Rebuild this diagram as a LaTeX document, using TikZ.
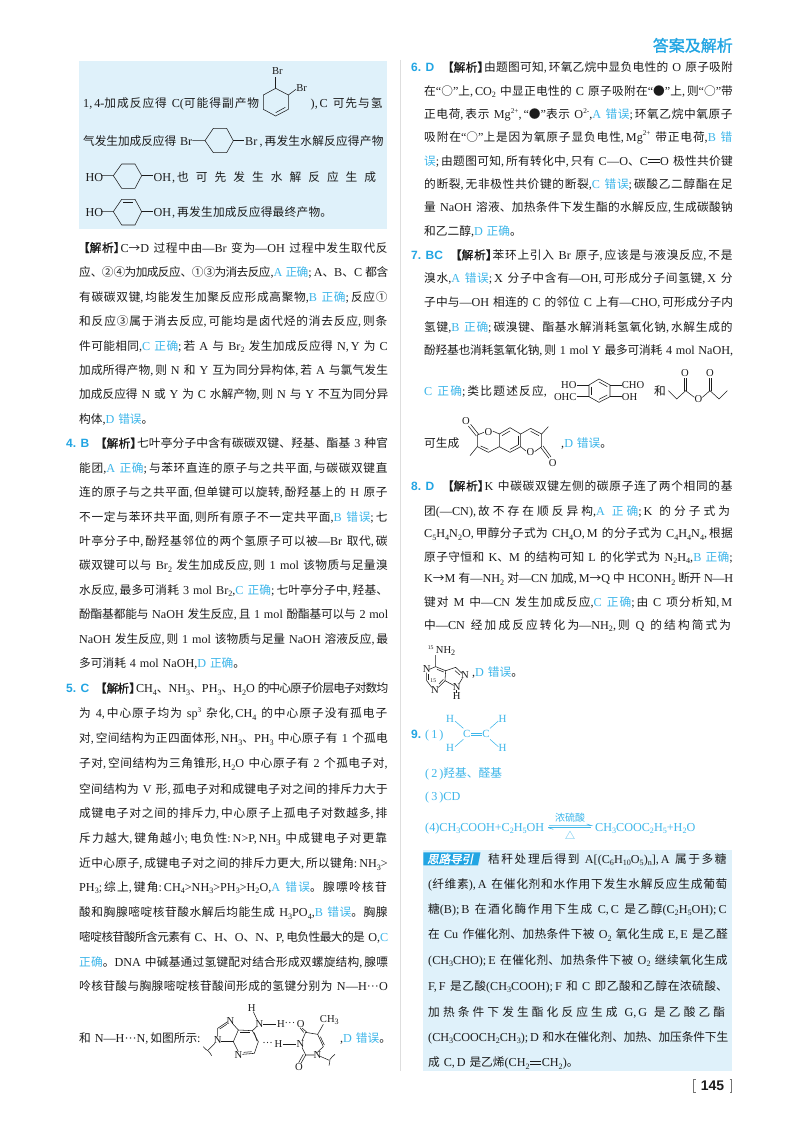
\documentclass[tikz,border=0pt]{standalone}
\usepackage{fontspec}
\setmainfont{Liberation Serif}
\newfontfamily\cjkf{Noto Sans CJK SC}
\newfontfamily\latf[Scale=1.04]{Liberation Serif}
\newfontfamily\labf{Liberation Sans}
\newfontfamily\tagf[FakeSlant=0.2,FakeBold=2]{Noto Sans CJK SC}
\newfontfamily\jxf[FakeBold=1.2]{Noto Sans CJK SC}
\definecolor{cb}{HTML}{3DB6EA}
\definecolor{lb}{HTML}{22A5E3}
\definecolor{tx}{HTML}{1C1C1C}
\definecolor{bx}{HTML}{DFF1FA}
% character classes: 1 CJK, 2 Latin, 3 narrow punctuation
\newcount\cc
\cc="21 \loop\XeTeXcharclass\cc=2 \advance\cc 1 \ifnum\cc<"7F \repeat
\XeTeXcharclass"2014=2 \XeTeXcharclass"00B7=2 \XeTeXcharclass"201C=2 \XeTeXcharclass"201D=2
\cc="4E00 \loop\XeTeXcharclass\cc=1 \advance\cc 1 \ifnum\cc<"A000 \repeat
\cc="3000 \loop\XeTeXcharclass\cc=1 \advance\cc 1 \ifnum\cc<"3040 \repeat
\cc="2190 \loop\XeTeXcharclass\cc=1 \advance\cc 1 \ifnum\cc<"21A0 \repeat
\cc="2460 \loop\XeTeXcharclass\cc=1 \advance\cc 1 \ifnum\cc<"2474 \repeat
\cc="2500 \loop\XeTeXcharclass\cc=1 \advance\cc 1 \ifnum\cc<"2600 \repeat
\XeTeXcharclass`\,=3 \XeTeXcharclass`\;=3 \XeTeXcharclass`\:=3
\XeTeXinterchartoks 0 1={\cjkf}
\XeTeXinterchartoks 2 1={\cjkf}
\XeTeXinterchartoks 3 1={\hskip .16em\cjkf}
\XeTeXinterchartoks 4095 1={\cjkf}
\XeTeXinterchartoks 0 2={\latf}
\XeTeXinterchartoks 1 2={\latf}
\XeTeXinterchartoks 3 2={\hskip .16em\latf}
\XeTeXinterchartoks 4095 2={\latf}
\XeTeXinterchartoks 0 3={\latf}
\XeTeXinterchartoks 1 3={\latf}
\XeTeXinterchartoks 4095 3={\latf}
\XeTeXinterchartokenstate=1
\XeTeXlinebreaklocale "zh"
\XeTeXlinebreakskip=0pt plus 1fil minus 1.2pt
\tolerance=10000 \hbadness=10000 \hfuzz=50pt \linepenalty=5000
\newcommand\dn[1]{\raisebox{-.2em}{\fontsize{7.8}{8}\selectfont #1}}
\newcommand\up[1]{\raisebox{.42em}{\fontsize{7}{8}\selectfont #1}}
\newcommand\bl[1]{\color{cb}#1\color{tx}}
\newcommand\nochg{\XeTeXinterchartokenstate=0\relax}
\newcommand\dbl{\kern.04em\rlap{\rule[.2em]{.92em}{.055em}}\rule[.4em]{.92em}{.055em}\kern.04em}
\newcommand\JX{{\nochg\jxf\kern-.1em 【解析】\kern-.42em}}
\tikzset{
  bd/.style={line width=.55pt,draw=tx},
  bb/.style={line width=.55pt,draw=cb},
  atm/.style={inner sep=0pt,font=\fontsize{10.2}{10}\selectfont,text=tx},
  atb/.style={inner sep=0pt,font=\fontsize{10.5}{10}\selectfont,text=cb},
  zm/.style 2 args={shift={(#1,#2)},x=.33333pt,y=-.33333pt},
}
\newcommand\lineJ[4]{\node[anchor=base west,inner sep=0pt,text width=#2 pt,text=tx,font=\fontsize{11.7}{14}\selectfont] at (#1,{#3+4.3}) {\parindent=0pt\parfillskip=0pt\spaceskip=.33em plus 1fil minus .1em\xspaceskip=\spaceskip\relax #4};}
\newcommand\lineN[3]{\node[anchor=base west,inner sep=0pt,text=tx,font=\fontsize{11.7}{14}\selectfont] at (#1,{#2+4.3}) {\spaceskip=.33em\xspaceskip=.33em\relax #3};}
\newcommand\colL[2]{\lineJ{79}{309}{#1}{#2}}
\newcommand\colR[2]{\lineJ{424}{309}{#1}{#2}}
\newcommand\boxR[2]{\lineJ{428}{300}{#1}{#2}}
\newcommand\labl[3]{\node[anchor=base west,inner sep=0pt,text=lb,font=\nochg\labf\bfseries\fontsize{12}{14}\selectfont] at (#1,{#2+4.3}) {#3};}
\begin{document}
\begin{tikzpicture}[x=1pt,y=-1pt]
\useasboundingbox (0,0) rectangle (800,1132);
\fill[white] (0,0) rectangle (800,1132);
% header and furniture
\node[anchor=base east,inner sep=0pt,text=lb,font=\nochg\jxf\fontsize{16}{18}\selectfont] at (733,51.5) {答案及解析};
\draw[line width=1.4pt,draw=black!13] (400.5,60) -- (400.5,1071);
\fill[bx] (79,60.7) rectangle (387,229);
\fill[bx] (423.3,850) rectangle (732.3,1071);
\fill[lb] (423.3,852.3) -- (480.5,852.3) -- (478,865.3) -- (423.3,865.3) -- cycle;
\node[anchor=base west,inner sep=0pt,text=white,font=\nochg\tagf\fontsize{11.5}{12}\selectfont] at (427,863.3) {思路导引};
% page number
\draw[line width=.6pt,draw=black!55] (695.5,1079) -- (693.5,1079) -- (693.5,1092.5) -- (695.5,1092.5);
\draw[line width=.6pt,draw=black!55] (729.5,1079) -- (731.5,1079) -- (731.5,1092.5) -- (729.5,1092.5);
\node[anchor=base,inner sep=0pt,text=tx,font=\nochg\labf\bfseries\fontsize{14}{14}\selectfont] at (712.5,1090.5) {145};

% first box
\lineJ{83}{177}{102.7}{1,4-加成反应得 C(可能得副产物}
\lineJ{310.5}{73}{102.7}{),C 可先与氢}
\lineJ{83}{109}{140.7}{气发生加成反应得 Br}
\lineN{245}{140.7}{Br}
\lineJ{259.5}{124}{140.7}{,再发生水解反应得产物}
\lineN{85.5}{176.7}{HO}
\lineN{153.5}{176.7}{OH}
\lineJ{172}{211}{176.7}{,也可先发生水解反应生成}
\lineN{85.5}{211.7}{HO}
\lineN{153.5}{211.7}{OH}
\lineJ{172}{160}{211.7}{,再发生加成反应得最终产物。}
\begin{scope}[zm={70}{30}]
 \draw[bd] (617,175)--(655,195)--(655,238)--(617,258)--(580,238)--(580,195)--cycle;
 \draw[bd] (646,232)--(617,248);
 \draw[bd] (617,175)--(617,140); \draw[bd] (655,195)--(678,178);
 \node[atm] at (622,123) {Br}; \node[atm] at (695,173) {Br};
 \draw[bd] (367,332)--(405,332)--(430,295)--(470,295)--(490,332)--(470,368)--(430,368)--(405,332);
 \draw[bd] (490,332)--(522,332);
 \draw[bd] (93,437)--(130,437)--(155,402)--(195,402)--(215,437)--(195,475)--(155,475)--(130,437);
 \draw[bd] (215,437)--(250,437);
 \draw[bd] (93,545)--(130,545)--(155,508)--(195,508)--(215,545)--(195,585)--(155,585)--(130,545);
 \draw[bd] (215,545)--(250,545); \draw[bd] (160,516)--(190,516);
\end{scope}

% left column, section 3
\colL{247.7}{\JX C→D 过程中由—Br 变为—OH 过程中发生取代反}
\colL{272.3}{应、②④为加成反应、①③为消去反应,\bl{A 正确};A、B、C 都含}
\colL{296.7}{有碳碳双键,均能发生加聚反应形成高聚物,\bl{B 正确};反应①}
\colL{321}{和反应③属于消去反应,可能均是卤代烃的消去反应,则条}
\colL{345.7}{件可能相同,\bl{C 正确};若 A 与 Br\dn{2} 发生加成反应得 N,Y 为 C}
\colL{369.7}{加成所得产物,则 N 和 Y 互为同分异构体,若 A 与氯气发生}
\colL{394.3}{加成反应得 N 或 Y 为 C 水解产物,则 N 与 Y 不互为同分异}
\lineN{79}{419}{构体,\bl{D 错误}。}
% section 4
\labl{66}{443.3}{4. B}
\lineJ{96}{292}{443.3}{\JX 七叶亭分子中含有碳碳双键、羟基、酯基 3 种官}
\colL{467.7}{能团,\bl{A 正确};与苯环直连的原子与之共平面,与碳碳双键直}
\colL{492}{连的原子与之共平面,但单键可以旋转,酚羟基上的 H 原子}
\colL{516.7}{不一定与苯环共平面,则所有原子不一定共平面,\bl{B 错误};七}
\colL{540.7}{叶亭分子中,酚羟基邻位的两个氢原子可以被—Br 取代,碳}
\colL{565.3}{碳双键可以与 Br\dn{2} 发生加成反应,则 1 mol 该物质与足量溴}
\colL{590}{水反应,最多可消耗 3 mol Br\dn{2},\bl{C 正确};七叶亭分子中,羟基、}
\colL{614.3}{酚酯基都能与 NaOH 发生反应,且 1 mol 酚酯基可以与 2 mol}
\colL{639}{NaOH 发生反应,则 1 mol 该物质与足量 NaOH 溶液反应,最}
\lineN{79}{663.3}{多可消耗 4 mol NaOH,\bl{D 正确}。}
% section 5
\labl{66}{688.3}{5. C}
\lineJ{96}{292}{688.3}{\JX CH\dn{4}、NH\dn{3}、PH\dn{3}、H\dn{2}O 的中心原子价层电子对数均}
\colL{713.3}{为 4,中心原子均为 sp\up{3} 杂化,CH\dn{4} 的中心原子没有孤电子}
\colL{738.3}{对,空间结构为正四面体形,NH\dn{3}、PH\dn{3} 中心原子有 1 个孤电}
\colL{763.3}{子对,空间结构为三角锥形,H\dn{2}O 中心原子有 2 个孤电子对,}
\colL{789}{空间结构为 V 形,孤电子对和成键电子对之间的排斥力大于}
\colL{813.3}{成键电子对之间的排斥力,中心原子上孤电子对数越多,排}
\colL{838.3}{斥力越大,键角越小;电负性:N>P,NH\dn{3} 中成键电子对更靠}
\colL{863.3}{近中心原子,成键电子对之间的排斥力更大,所以键角:NH\dn{3}>}
\colL{886.7}{PH\dn{3};综上,键角:CH\dn{4}>NH\dn{3}>PH\dn{3}>H\dn{2}O,\bl{A 错误}。腺嘌呤核苷}
\colL{912.3}{酸和胸腺嘧啶核苷酸水解后均能生成 H\dn{3}PO\dn{4},\bl{B 错误}。胸腺}
\colL{937.3}{嘧啶核苷酸所含元素有 C、H、O、N、P,电负性最大的是 O,\bl{C}}
\colL{961.7}{\bl{正确}。DNA 中碱基通过氢键配对结合形成双螺旋结构,腺嘌}
\colL{985.7}{呤核苷酸与胸腺嘧啶核苷酸间形成的氢键分别为 N—H···O}
\lineN{79}{1038.3}{和 N—H···N,如图所示:}
\lineN{340}{1038.3}{,\bl{D 错误}。}
\begin{scope}[zm={195}{995}]
 \node[atm] at (170,38) {H}; \node[atm] (n6) at (193,88) {N};
 \draw[bd] (175,50)--(188,78);
 \draw[bd] (205,88)--(243,88);
 \node[atm] at (258,88) {H};
 \node[atm] at (285,88) {···};
 \node[atm] at (317,86) {O};
 \node[atm] at (403,75) {CH\dn{3}};
 \draw[bd] (185,95)--(172,107)--(130,105)--(115,140)--(130,170);
 \draw[bd] (172,107)--(190,140)--(178,175)--(142,178);
 \draw[bd] (178,113)--(186,138); \draw[bd] (135,113)--(165,113); \draw[bd] (170,170)--(146,172);
 \draw[bd] (130,105)--(112,85); \draw[bd] (98,80)--(68,100)--(68,125);
 \draw[bd] (95,88)--(74,102);
 \draw[bd] (115,140)--(78,140);
 \node[atm] at (106,78) {N}; \node[atm] at (68,135) {N}; \node[atm] at (130,180) {N};
 \draw[bd] (60,145)--(40,165);
 \draw[bd] (25,155) .. controls (32,160) and (30,165) .. (40,168) .. controls (48,170) and (42,178) .. (50,182);
 \node[atm] at (218,147) {···};
 \node[atm] at (250,147) {H};
 \draw[bd] (263,147)--(302,147);
 \node[atm] at (316,147) {N};
 \draw[bd] (321,137)--(332,112)--(368,118)--(385,155)--(367,172);
 \draw[bd] (322,100)--(336,112); \draw[bd] (315,98)--(326,112);
 \draw[bd] (368,118)--(385,88);
 \draw[bd] (376,125)--(388,150);
 \node[atm] at (367,180) {N};
 \draw[bd] (358,180)--(332,180)--(321,157);
 \draw[bd] (332,180)--(318,205); \draw[bd] (325,178)--(311,203);
 \node[atm] at (312,215) {O};
 \draw[bd] (376,184)--(403,196);
 \draw[bd] (420,178) .. controls (415,185) and (408,185) .. (405,193) .. controls (400,200) and (408,205) .. (402,212);
\end{scope}

% right column, section 6
\labl{411}{67.3}{6. D}
\lineJ{443}{290}{67.3}{\JX 由题图可知,环氧乙烷中显负电性的 O 原子吸附}
\colR{91}{在“○”上,CO\dn{2} 中显正电性的 C 原子吸附在“●”上,则“○”带}
\colR{114.3}{正电荷,表示 Mg\up{2+},“●”表示 O\up{2-},\bl{A 错误};环氧乙烷中氧原子}
\colR{136.7}{吸附在“○”上是因为氧原子显负电性,Mg\up{2+} 带正电荷,\bl{B 错}}
\colR{160.7}{\bl{误};由题图可知,所有转化中,只有 C—O、C\dbl O 极性共价键}
\colR{184}{的断裂,无非极性共价键的断裂,\bl{C 错误};碳酸乙二醇酯在足}
\colR{207.3}{量 NaOH 溶液、加热条件下发生酯的水解反应,生成碳酸钠}
\lineN{424}{231}{和乙二醇,\bl{D 正确}。}
% section 7
\labl{411}{255}{7. BC}
\lineJ{451}{282}{255}{\JX 苯环上引入 Br 原子,应该是与液溴反应,不是}
\colR{278.3}{溴水,\bl{A 错误};X 分子中含有—OH,可形成分子间氢键,X 分}
\colR{302.3}{子中与—OH 相连的 C 的邻位 C 上有—CHO,可形成分子内}
\colR{326.7}{氢键,\bl{B 正确};碳溴键、酯基水解消耗氢氧化钠,水解生成的}
\colR{350.3}{酚羟基也消耗氢氧化钠,则 1 mol Y 最多可消耗 4 mol NaOH,}
\lineJ{424}{124}{391}{\bl{C 正确};类比题述反应,}
\lineN{654}{391}{和}
\lineN{424}{442.7}{可生成}
\lineN{561}{442.7}{,\bl{D 错误}。}
\begin{scope}[zm={400}{245}]
 \draw[bd] (597,402)--(630,420)--(630,455)--(597,472)--(567,455)--(567,420)--cycle;
 \draw[bd] (597,411)--(622,425); \draw[bd] (622,450)--(597,463); \draw[bd] (575,425)--(575,450);
 \draw[bd] (530,420)--(567,420); \draw[bd] (530,455)--(567,455);
 \draw[bd] (630,420)--(665,420); \draw[bd] (630,455)--(665,455);
 \node[atm,anchor=east] at (530,420) {HO}; \node[atm,anchor=east] at (530,457) {OHC};
 \node[atm,anchor=west] at (665,420) {CHO}; \node[atm,anchor=west] at (665,457) {OH};
 \draw[bd] (805,437)--(830,462)--(857,437)--(883,457); \draw[bd] (907,457)--(930,437)--(957,462)--(982,437);
 \draw[bd] (854,437)--(854,398); \draw[bd] (860,437)--(860,398);
 \draw[bd] (927,437)--(927,398); \draw[bd] (933,437)--(933,398);
 \node[atm] at (855,383) {O}; \node[atm] at (930,383) {O}; \node[atm] at (895,463) {O};
 % fused rings
 \node[atm] at (198,528) {O}; \node[atm] at (265,560) {O}; \node[atm] at (391,622) {O}; \node[atm] at (458,653) {O};
 \draw[bd] (252,562)--(232,570)--(232,605)--(265,622)--(298,605)--(298,567)--(278,558);
 \draw[bd] (229,573)--(205,543); \draw[bd] (236,568)--(212,538);
 \draw[bd] (232,605)--(210,632);
 \draw[bd] (242,603)--(265,613);
 \draw[bd] (298,567)--(330,548)--(362,567)--(362,605)--(330,622)--(298,605);
 \draw[bd] (306,572)--(330,558); \draw[bd] (354,600)--(330,613); \draw[bd] (354,572)--(354,600);
 \draw[bd] (362,567)--(392,550)--(425,567)--(425,605)--(404,620);
 \draw[bd] (378,618)--(362,605);
 \draw[bd] (392,559)--(417,572);
 \draw[bd] (425,567)--(445,545);
 \draw[bd] (422,607)--(447,640); \draw[bd] (429,603)--(453,636);
\end{scope}
% section 8
\labl{411}{486}{8. D}
\lineJ{443}{290}{486}{\JX K 中碳碳双键左侧的碳原子连了两个相同的基}
\colR{510.7}{团(—CN),故不存在顺反异构,\bl{A 正确};K 的分子式为}
\colR{533.3}{C\dn{5}H\dn{4}N\dn{2}O,甲醇分子式为 CH\dn{4}O,M 的分子式为 C\dn{4}H\dn{4}N\dn{4},根据}
\colR{556.7}{原子守恒和 K、M 的结构可知 L 的化学式为 N\dn{2}H\dn{4},\bl{B 正确};}
\colR{578.3}{K→M 有—NH\dn{2} 对—CN 加成,M→Q 中 HCONH\dn{2} 断开 N—H}
\colR{601.7}{键对 M 中—CN 发生加成反应,\bl{C 正确};由 C 项分析知,M}
\colR{625}{中—CN 经加成反应转化为—NH\dn{2},则 Q 的结构简式为}
\lineN{472}{671.7}{,\bl{D 错误}。}
\begin{scope}[zm={415}{640}]
 \node[atm,anchor=west] at (62,33) {NH\dn{2}};
 \node[atm,font=\fontsize{5.5}{6}\selectfont] at (47,22) {15};
 \node[atm,font=\fontsize{5.5}{6}\selectfont] at (55,122) {15};
 \node[atm] at (35,88) {N}; \node[atm] at (60,150) {N}; \node[atm] at (150,105) {N}; \node[atm] at (125,140) {N}; \node[atm] at (125,168) {H};
 \draw[bd] (62,45)--(62,80)--(92,92)--(90,122)--(70,142);
 \draw[bd] (62,80)--(43,88); \draw[bd] (66,88)--(86,96); \draw[bd] (85,118)--(72,132);
 \draw[bd] (35,98)--(35,122)--(50,142); \draw[bd] (41,102)--(41,120);
 \draw[bd] (92,92)--(122,82)--(141,100); \draw[bd] (120,92)--(135,105);
 \draw[bd] (90,122)--(116,136); \draw[bd] (142,115)--(133,130);
 \draw[bd] (125,150)--(125,158);
\end{scope}
% section 9
\labl{411}{734.3}{9.}
\node[anchor=base west,inner sep=0pt,text=cb,font=\fontsize{11.7}{14}\selectfont] at (425,738.6) {(\,1\,)};
\begin{scope}[zm={400}{695}]
 \node[atb] at (150,73) {H}; \node[atb] at (308,73) {H}; \node[atb] at (150,160) {H}; \node[atb] at (308,160) {H};
 \node[atb] at (200,118) {C}; \node[atb] at (258,118) {C};
 \draw[bb] (165,78)--(190,100); \draw[bb] (295,78)--(270,100); \draw[bb] (165,155)--(190,133); \draw[bb] (295,155)--(270,133);
 \draw[bb] (214,115)--(245,115); \draw[bb] (214,121)--(245,121);
 % reversible arrow
 \draw[bb] (447,392)--(575,392)--(560,387); \draw[bb] (445,398)--(574,398); \draw[bb] (445,398)--(460,403);
 \node[atb,font=\fontsize{10}{10}\selectfont] at (510,369) {浓硫酸};
 \node[atb,font=\fontsize{10}{10}\selectfont] at (510,422) {△};
\end{scope}
\lineN{425}{772.7}{\bl{(\,2\,)羟基、醛基}}
\lineN{425}{795.7}{\bl{(\,3\,)CD}}
\lineN{425}{826.7}{\bl{(4)CH\dn{3}COOH+C\dn{2}H\dn{5}OH}}
\lineN{595}{826.7}{\bl{CH\dn{3}COOC\dn{2}H\dn{5}+H\dn{2}O}}
% guidance box
\lineJ{488}{240}{859}{秸秆处理后得到 A[(C\dn{6}H\dn{10}O\dn{5})\dn{n}],A 属于多糖}
\boxR{884.3}{(纤维素),A 在催化剂和水作用下发生水解反应生成葡萄}
\boxR{909}{糖(B);B 在酒化酶作用下生成 C,C 是乙醇(C\dn{2}H\dn{5}OH);C}
\boxR{934.3}{在 Cu 作催化剂、加热条件下被 O\dn{2} 氧化生成 E,E 是乙醛}
\boxR{960}{(CH\dn{3}CHO);E 在催化剂、加热条件下被 O\dn{2} 继续氧化生成}
\boxR{985.7}{F,F 是乙酸(CH\dn{3}COOH);F 和 C 即乙酸和乙醇在浓硫酸、}
\boxR{1011.7}{加热条件下发生酯化反应生成 G,G 是乙酸乙酯}
\boxR{1036.7}{(CH\dn{3}COOCH\dn{2}CH\dn{3});D 和水在催化剂、加热、加压条件下生}
\lineN{428}{1062.3}{成 C,D 是乙烯(CH\dn{2}\dbl CH\dn{2})。}
\end{tikzpicture}
\end{document}
